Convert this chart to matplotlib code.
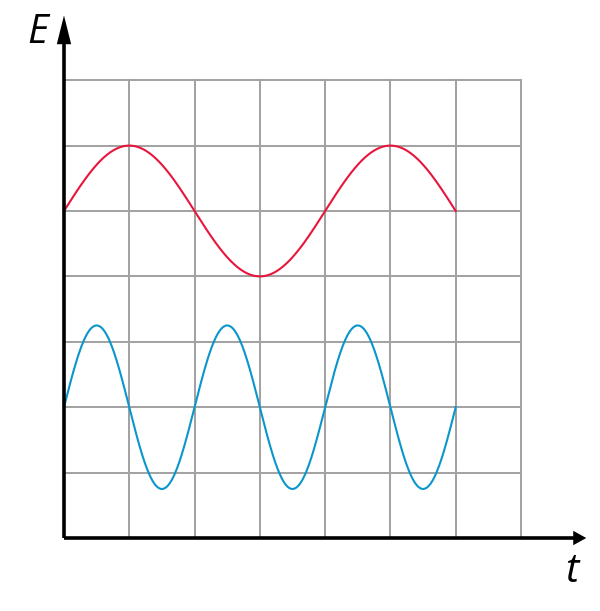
import numpy as np
import matplotlib.pyplot as plt

# grid size in cells
n_cols = 7
n_rows = 7

# wave parameters (grid units)
red_center, red_amp, red_period, red_len = 5.0, 1.0, 4.0, 6.0
blue_center, blue_amp, blue_period, blue_len = 2.0, 1.25, 2.0, 6.0

red_col = '#e8163c'
blue_col = '#0b96cb'
grid_col = '#a3a3a3'

fig = plt.figure(figsize=(6.0, 6.11), dpi=100)
ax = fig.add_axes([0, 0, 1, 1])
ax.set_xlim(-0.98, 8.21)
ax.set_ylim(-1.116, 8.226)
ax.axis('off')

# grid
for i in range(1, n_cols + 1):
    ax.plot([i, i], [0, n_rows], color=grid_col, lw=1.45, zorder=1)
for j in range(1, n_rows + 1):
    ax.plot([0, n_cols], [j, j], color=grid_col, lw=1.45, zorder=1)

# waves
t = np.linspace(0, red_len, 500)
ax.plot(t, red_center + red_amp * np.sin(2 * np.pi * t / red_period),
        color=red_col, lw=1.5, zorder=3)
t = np.linspace(0, blue_len, 500)
ax.plot(t, blue_center + blue_amp * np.sin(2 * np.pi * t / blue_period),
        color=blue_col, lw=1.5, zorder=3)

# axes with arrow heads
ax.plot([0, 0], [0, 7.6], color='black', lw=2.6, zorder=4, solid_capstyle='butt')
ax.plot([0, 7.85], [0, 0], color='black', lw=2.6, zorder=4, solid_capstyle='butt')
ax.fill([-0.11, 0.11, 0], [7.55, 7.55, 7.99], color='black', zorder=5, lw=0)
ax.fill([7.8, 7.8, 8.0], [-0.11, 0.11, 0], color='black', zorder=5, lw=0)

ax.text(-0.41, 7.72, 'E', fontsize=29, style='italic', family='Open Sans',
        ha='center', va='center')
ax.text(7.78, -0.52, 't', fontsize=29, style='italic', family='Open Sans',
        ha='center', va='center')

fig.savefig('out.png', dpi=100)
